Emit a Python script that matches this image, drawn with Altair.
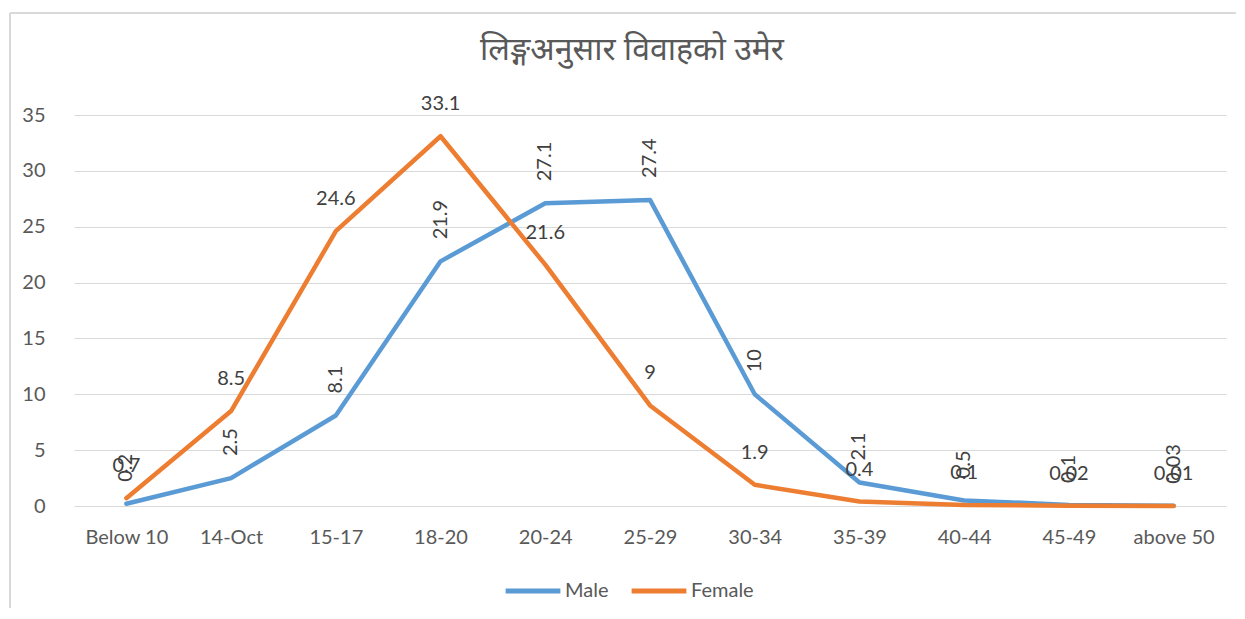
import altair as alt
import pandas as pd

categories = ["Below 10", "14-Oct", "15-17", "18-20", "20-24", "25-29",
              "30-34", "35-39", "40-44", "45-49", "above 50"]
male = [0.2, 2.5, 8.1, 21.9, 27.1, 27.4, 10, 2.1, 0.5, 0.1, 0.03]
female = [0.7, 8.5, 24.6, 33.1, 21.6, 9, 1.9, 0.4, 0.1, 0.02, 0.01]
series = ["Male", "Female"]
colors = ["#5B9BD5", "#ED7D31"]
title = "लिङ्गअनुसार विवाहको उमेर"

rows = []
for i, c in enumerate(categories):
    rows.append({"age": c, "series": "Male", "value": male[i], "label": f"{male[i]:g}"})
for i, c in enumerate(categories):
    rows.append({"age": c, "series": "Female", "value": female[i], "label": f"{female[i]:g}"})
df = pd.DataFrame(rows)

FONT = "Lato"
FS = 20

x = alt.X("age:N", sort=categories, scale=alt.Scale(type="point", padding=0.5),
          axis=alt.Axis(title=None, labelAngle=0, domain=False, ticks=False,
                        labelPadding=21, labelFontSize=FS, labelColor="#595959",
                        labelFont=FONT))
y = alt.Y("value:Q", scale=alt.Scale(domain=[0, 35], nice=False),
          axis=alt.Axis(title=None, values=[0, 5, 10, 15, 20, 25, 30, 35],
                        domain=False, ticks=False, labelPadding=29,
                        labelFontSize=FS, labelColor="#595959", labelFont=FONT,
                        gridColor="#d9d9d9", gridWidth=1))
color = alt.Color("series:N", scale=alt.Scale(domain=series, range=colors),
                  legend=alt.Legend(title=None, orient="none", direction="horizontal",
                                    legendX=429, legendY=446, symbolType="stroke",
                                    symbolSize=3000, symbolStrokeWidth=5,
                                    labelFontSize=FS, labelColor="#595959",
                                    labelFont=FONT, columnPadding=12,
                                    labelOffset=2))

base = alt.Chart(df)
lines = base.mark_line(strokeWidth=4.5, strokeCap="round", strokeJoin="round").encode(
    x=x, y=y, color=color, order=alt.Order("series:N"))

female_labels = base.transform_filter(alt.datum.series == "Female").mark_text(
    dy=-32, fontSize=FS, color="#404040", font=FONT, baseline="middle", align="center"
).encode(x=alt.X("age:N", sort=categories), y="value:Q", text="label:N")

male_labels = base.transform_filter(alt.datum.series == "Male").mark_text(
    angle=270, align="left", baseline="middle", dx=22, fontSize=FS,
    color="#404040", font=FONT
).encode(x=alt.X("age:N", sort=categories), y="value:Q", text="label:N")

one = pd.DataFrame({"t": [title]})
frame_left = alt.Chart(one).mark_rule(color="#d9d9d9", strokeWidth=2).encode(
    x=alt.value(-64), y=alt.value(-102), y2=alt.value(500))
frame_top = alt.Chart(one).mark_rule(color="#d9d9d9", strokeWidth=2).encode(
    x=alt.value(-64), x2=alt.value(1170), y=alt.value(-102))
title_mark = alt.Chart(one).mark_text(
    fontSize=32, font="Noto Sans", color="#595959", align="center", baseline="middle"
).encode(x=alt.value(558), y=alt.value(-65), text="t:N")

chart = alt.layer(frame_left, frame_top, title_mark, lines, female_labels, male_labels).properties(
    width=1152, height=391,
    autosize=alt.AutoSizeParams(type="none"),
    padding={"left": 66, "top": 107, "right": 10, "bottom": 102},
).configure(background="white").configure_view(stroke=None)

chart.save("out.html", embed_options={"renderer": "svg", "actions": False})
